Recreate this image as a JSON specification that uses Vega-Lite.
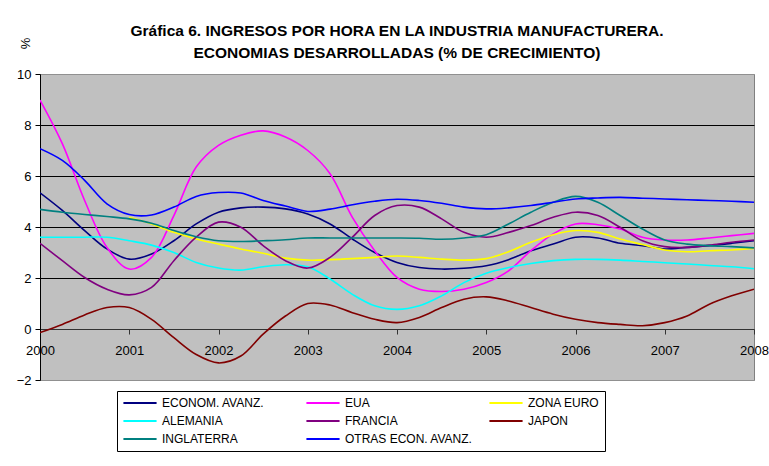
{
  "$schema": "https://vega.github.io/schema/vega-lite/v6.json",
  "width": 714,
  "height": 306,
  "autosize": {"type": "none"},
  "padding": {"left": 40, "top": 74, "right": 15, "bottom": 86},
  "background": "white",
  "title": {
    "text": ["Gráfica 6. INGRESOS POR HORA EN LA INDUSTRIA MANUFACTURERA.", "ECONOMIAS DESARROLLADAS (% DE CRECIMIENTO)"],
    "font": "Liberation Sans",
    "fontSize": 15.5,
    "fontWeight": "bold",
    "color": "black",
    "anchor": "middle",
    "lineHeight": 22,
    "offset": -24
  },
  "data": {
    "values": [
      {"t": 2000.00, "EA": 5.34, "EUA": 8.98, "ZE": null, "AL": 3.60, "FR": 3.36, "JP": -0.14, "IN": 4.69, "OT": 7.07},
      {"t": 2000.25, "EA": 4.65, "EUA": 7.27, "ZE": null, "AL": 3.60, "FR": 2.68, "JP": 0.18, "IN": 4.58, "OT": 6.61},
      {"t": 2000.50, "EA": 3.86, "EUA": 5.04, "ZE": null, "AL": 3.60, "FR": 2.02, "JP": 0.55, "IN": 4.49, "OT": 5.83},
      {"t": 2000.75, "EA": 3.14, "EUA": 3.20, "ZE": null, "AL": 3.60, "FR": 1.56, "JP": 0.84, "IN": 4.41, "OT": 4.91},
      {"t": 2001.00, "EA": 2.74, "EUA": 2.35, "ZE": 4.38, "AL": 3.46, "FR": 1.34, "JP": 0.84, "IN": 4.32, "OT": 4.49},
      {"t": 2001.25, "EA": 2.94, "EUA": 2.81, "ZE": 4.12, "AL": 3.29, "FR": 1.63, "JP": 0.38, "IN": 4.15, "OT": 4.47},
      {"t": 2001.50, "EA": 3.46, "EUA": 4.45, "ZE": 3.79, "AL": 3.00, "FR": 2.68, "JP": -0.34, "IN": 3.86, "OT": 4.78},
      {"t": 2001.75, "EA": 4.12, "EUA": 6.35, "ZE": 3.53, "AL": 2.61, "FR": 3.60, "JP": -1.00, "IN": 3.62, "OT": 5.20},
      {"t": 2002.00, "EA": 4.58, "EUA": 7.20, "ZE": 3.33, "AL": 2.39, "FR": 4.19, "JP": -1.33, "IN": 3.46, "OT": 5.35},
      {"t": 2002.25, "EA": 4.75, "EUA": 7.60, "ZE": 3.14, "AL": 2.31, "FR": 3.99, "JP": -1.06, "IN": 3.43, "OT": 5.33},
      {"t": 2002.50, "EA": 4.78, "EUA": 7.77, "ZE": 2.97, "AL": 2.44, "FR": 3.27, "JP": -0.20, "IN": 3.46, "OT": 5.04},
      {"t": 2002.75, "EA": 4.71, "EUA": 7.53, "ZE": 2.78, "AL": 2.52, "FR": 2.68, "JP": 0.51, "IN": 3.50, "OT": 4.82},
      {"t": 2003.00, "EA": 4.51, "EUA": 7.00, "ZE": 2.70, "AL": 2.44, "FR": 2.39, "JP": 1.00, "IN": 3.57, "OT": 4.61},
      {"t": 2003.25, "EA": 4.12, "EUA": 6.09, "ZE": 2.72, "AL": 1.96, "FR": 2.81, "JP": 0.94, "IN": 3.57, "OT": 4.70},
      {"t": 2003.50, "EA": 3.53, "EUA": 4.38, "ZE": 2.76, "AL": 1.36, "FR": 3.60, "JP": 0.64, "IN": 3.57, "OT": 4.87},
      {"t": 2003.75, "EA": 3.00, "EUA": 3.07, "ZE": 2.81, "AL": 0.91, "FR": 4.45, "JP": 0.38, "IN": 3.57, "OT": 5.01},
      {"t": 2004.00, "EA": 2.61, "EUA": 2.02, "ZE": 2.86, "AL": 0.77, "FR": 4.84, "JP": 0.25, "IN": 3.57, "OT": 5.09},
      {"t": 2004.25, "EA": 2.41, "EUA": 1.56, "ZE": 2.81, "AL": 0.91, "FR": 4.78, "JP": 0.45, "IN": 3.56, "OT": 5.04},
      {"t": 2004.50, "EA": 2.35, "EUA": 1.47, "ZE": 2.74, "AL": 1.30, "FR": 4.32, "JP": 0.84, "IN": 3.52, "OT": 4.93},
      {"t": 2004.75, "EA": 2.38, "EUA": 1.56, "ZE": 2.70, "AL": 1.82, "FR": 3.79, "JP": 1.17, "IN": 3.57, "OT": 4.78},
      {"t": 2005.00, "EA": 2.48, "EUA": 1.82, "ZE": 2.76, "AL": 2.19, "FR": 3.60, "JP": 1.26, "IN": 3.70, "OT": 4.71},
      {"t": 2005.25, "EA": 2.72, "EUA": 2.28, "ZE": 3.03, "AL": 2.41, "FR": 3.79, "JP": 1.10, "IN": 4.12, "OT": 4.75},
      {"t": 2005.50, "EA": 3.07, "EUA": 3.07, "ZE": 3.40, "AL": 2.57, "FR": 4.06, "JP": 0.84, "IN": 4.58, "OT": 4.84},
      {"t": 2005.75, "EA": 3.33, "EUA": 3.73, "ZE": 3.70, "AL": 2.68, "FR": 4.38, "JP": 0.58, "IN": 4.97, "OT": 4.97},
      {"t": 2006.00, "EA": 3.60, "EUA": 4.12, "ZE": 3.86, "AL": 2.73, "FR": 4.58, "JP": 0.38, "IN": 5.20, "OT": 5.10},
      {"t": 2006.25, "EA": 3.57, "EUA": 4.09, "ZE": 3.79, "AL": 2.73, "FR": 4.45, "JP": 0.25, "IN": 4.97, "OT": 5.14},
      {"t": 2006.50, "EA": 3.36, "EUA": 3.92, "ZE": 3.53, "AL": 2.70, "FR": 3.99, "JP": 0.18, "IN": 4.45, "OT": 5.16},
      {"t": 2006.75, "EA": 3.27, "EUA": 3.60, "ZE": 3.31, "AL": 2.65, "FR": 3.46, "JP": 0.13, "IN": 3.92, "OT": 5.13},
      {"t": 2007.00, "EA": 3.14, "EUA": 3.49, "ZE": 3.10, "AL": 2.60, "FR": 3.23, "JP": 0.25, "IN": 3.49, "OT": 5.10},
      {"t": 2007.25, "EA": 3.20, "EUA": 3.49, "ZE": 3.03, "AL": 2.55, "FR": 3.20, "JP": 0.51, "IN": 3.33, "OT": 5.07},
      {"t": 2007.50, "EA": 3.27, "EUA": 3.57, "ZE": 3.07, "AL": 2.49, "FR": 3.29, "JP": 0.97, "IN": 3.27, "OT": 5.04},
      {"t": 2007.75, "EA": 3.36, "EUA": 3.66, "ZE": 3.10, "AL": 2.44, "FR": 3.40, "JP": 1.30, "IN": 3.23, "OT": 5.01},
      {"t": 2008.00, "EA": 3.46, "EUA": 3.75, "ZE": 3.16, "AL": 2.36, "FR": 3.49, "JP": 1.56, "IN": 3.18, "OT": 4.97}
    ]
  },
  "transform": [
    {"fold": ["EA", "EUA", "ZE", "AL", "FR", "JP", "IN", "OT"], "as": ["s", "v"]}
  ],
  "mark": {"type": "line", "interpolate": "catmull-rom", "strokeWidth": 1.6, "clip": true},
  "encoding": {
    "x": {
      "field": "t",
      "type": "quantitative",
      "scale": {"domain": [2000, 2008], "nice": false, "zero": false},
      "axis": {
        "title": null,
        "orient": "bottom",
        "offset": -51,
        "values": [2000, 2001, 2002, 2003, 2004, 2005, 2006, 2007, 2008],
        "format": "d",
        "grid": false,
        "domainColor": "#333333",
        "domainWidth": 1.2,
        "tickColor": "#333333",
        "tickSize": 5,
        "labelPadding": 10,
        "labelFont": "Liberation Sans",
        "labelFontSize": 13,
        "labelColor": "black",
        "labelFlush": false,
        "labelOverlap": false
      }
    },
    "y": {
      "field": "v",
      "type": "quantitative",
      "scale": {"domain": [-2, 10], "nice": false, "zero": false},
      "axis": {
        "title": "%",
        "titleFont": "Liberation Sans",
        "titleFontSize": 13,
        "titleFontWeight": "normal",
        "titleColor": "black",
        "titleAngle": 270,
        "titleX": -15,
        "titleY": -31,
        "titleAlign": "center",
        "titleBaseline": "middle",
        "values": [-2, 0, 2, 4, 6, 8, 10],
        "grid": true,
        "gridColor": {"condition": {"test": "datum.value == 10 || datum.value == -2 || datum.value == 0", "value": "#909090"}, "value": "black"},
        "gridWidth": 1,
        "domainColor": "black",
        "tickColor": "black",
        "tickSize": 5,
        "labelPadding": 4,
        "labelFont": "Liberation Sans",
        "labelFontSize": 13,
        "labelColor": "black"
      }
    },
    "color": {
      "field": "s",
      "type": "nominal",
      "scale": {
        "domain": ["EA", "EUA", "ZE", "AL", "FR", "JP", "IN", "OT"],
        "range": ["#000080", "#FF00FF", "#FFFF00", "#00FFFF", "#800080", "#800000", "#008080", "#0000FF"]
      },
      "legend": {
        "title": null,
        "orient": "none",
        "direction": "horizontal",
        "legendX": 77,
        "legendY": 317,
        "columns": 3,
        "gridAlign": "all",
        "columnPadding": 15,
        "rowPadding": 4,
        "clipHeight": 14,
        "padding": 5,
        "strokeColor": "black",
        "fillColor": "white",
        "symbolType": "stroke",
        "symbolSize": 1100,
        "symbolStrokeWidth": 2,
        "labelFont": "Liberation Sans",
        "labelFontSize": 12,
        "labelColor": "black",
        "labelOffset": 4,
        "labelExpr": "datum.label == 'EA' ? 'ECONOM. AVANZ.' : datum.label == 'EUA' ? 'EUA' : datum.label == 'ZE' ? 'ZONA EURO' : datum.label == 'AL' ? 'ALEMANIA' : datum.label == 'FR' ? 'FRANCIA' : datum.label == 'JP' ? 'JAPON' : datum.label == 'IN' ? 'INGLATERRA' : 'OTRAS ECON. AVANZ.'"
      }
    }
  },
  "config": {
    "view": {"fill": "#C0C0C0", "stroke": "#808080", "strokeWidth": 1}
  }
}
